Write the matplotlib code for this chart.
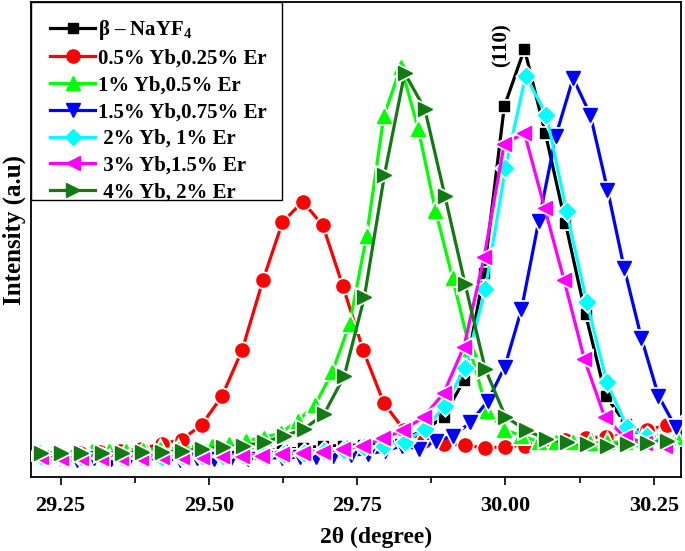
import matplotlib
matplotlib.use("Agg")
import matplotlib.pyplot as plt
from matplotlib.ticker import MultipleLocator, NullLocator, FormatStrFormatter
from matplotlib.legend_handler import HandlerLine2D
from matplotlib.patches import Rectangle
from matplotlib.lines import Line2D

plt.rcParams['font.family'] = ['Liberation Serif', 'DejaVu Serif']
plt.rcParams['font.weight'] = 'bold'
plt.rcParams['mathtext.fontset'] = 'custom'
plt.rcParams['mathtext.rm'] = 'Liberation Serif:bold'
plt.rcParams['mathtext.default'] = 'rm'

labels = ["β – NaYF$_4$", "0.5% Yb,0.25% Er", "1% Yb,0.5% Er", "1.5% Yb,0.75% Er",
          " 2% Yb, 1% Er", " 3% Yb,1.5% Er", " 4% Yb, 2% Er"]

x_black = [29.215, 29.249, 29.283, 29.317, 29.351, 29.385, 29.419, 29.453, 29.487, 29.522,
           29.556, 29.590, 29.624, 29.658, 29.692, 29.726, 29.760, 29.794, 29.828, 29.862,
           29.896, 29.930, 29.964, 29.998, 30.032, 30.067, 30.101, 30.135, 30.169, 30.203,
           30.237, 30.271, 30.305]
y_black = [21, 21, 21, 20, 21, 21.5, 22, 22.5, 23, 24, 25, 26, 27.5, 29, 31, 31.5, 32, 34.5,
           39, 46, 60.5, 97, 204.7, 371.3, 429, 345, 254.7, 163, 81.3, 53, 44, 36.3, 35]

x_red = [29.213, 29.248, 29.283, 29.316, 29.350, 29.385, 29.420, 29.454, 29.488, 29.522,
         29.556, 29.591, 29.624, 29.658, 29.692, 29.726, 29.760, 29.795, 29.829, 29.863,
         29.897, 29.931, 29.965, 29.999, 30.033, 30.067, 30.101, 30.136, 30.170, 30.204,
         30.238, 30.272, 30.306]
y_red = [23, 23, 24, 25, 26, 28, 33.5, 37.3, 52.5, 81, 127.3, 197, 255.3, 276, 252.2, 191,
         127, 74, 47, 36, 33, 32, 29, 30.5, 31.5, 34, 37, 39, 40.5, 42, 47, 52, 56]

x_lime = [29.215, 29.244, 29.273, 29.302, 29.331, 29.360, 29.389, 29.418, 29.447, 29.476,
          29.505, 29.534, 29.563, 29.592, 29.621, 29.650, 29.679, 29.708, 29.737, 29.766,
          29.795, 29.824, 29.853, 29.882, 29.911, 29.940, 29.969, 29.998, 30.027, 30.056,
          30.085, 30.114, 30.143, 30.172, 30.201, 30.230, 30.259, 30.288]
y_lime = [24.7, 24.7, 25, 26, 26.3, 26.5, 27, 28, 28.5, 29.7, 31.5, 33, 36.3, 39.5, 44, 56.5,
          72, 105.3, 153, 242, 362, 411.3, 348.7, 267, 199, 128, 66.3, 47.5, 41.3, 35.5,
          35.3, 34.7, 34, 34.7, 35, 38, 38.7, 39.7]

x_blue = [29.220, 29.249, 29.278, 29.307, 29.335, 29.364, 29.393, 29.422, 29.451, 29.480,
          29.508, 29.537, 29.566, 29.595, 29.624, 29.653, 29.681, 29.710, 29.739, 29.768,
          29.797, 29.826, 29.854, 29.883, 29.912, 29.941, 29.970, 29.999, 30.027, 30.056,
          30.085, 30.114, 30.143, 30.172, 30.200, 30.229, 30.258, 30.287]
y_blue = [19, 18, 17, 19, 18, 17, 18.5, 18, 17.5, 19, 18, 19, 18.5, 19.5, 19, 20, 20, 21,
          22, 23, 26.3, 31.3, 28, 36.3, 41.3, 54.7, 76, 110.7, 168, 256.3, 342, 399.7, 363,
          288, 209.7, 139.7, 81.3, 49.7]

x_cyan = [29.217, 29.251, 29.285, 29.319, 29.353, 29.387, 29.421, 29.455, 29.489, 29.524,
          29.558, 29.592, 29.626, 29.660, 29.694, 29.728, 29.762, 29.796, 29.830, 29.864,
          29.898, 29.932, 29.966, 30.000, 30.034, 30.069, 30.103, 30.137, 30.171, 30.205,
          30.239, 30.273]
y_cyan = [21, 21, 20, 20, 20, 20.5, 20.5, 21, 21, 21.5, 22, 22.5, 23, 24, 26, 27, 29.7, 31.3,
          35.5, 48, 71.3, 109.7, 188, 309.7, 402, 363, 266.3, 175.3, 95, 49.7, 41, 33]

x_mag = [29.216, 29.250, 29.284, 29.318, 29.352, 29.386, 29.420, 29.454, 29.488, 29.522,
         29.556, 29.590, 29.624, 29.658, 29.692, 29.726, 29.760, 29.794, 29.828, 29.862,
         29.896, 29.930, 29.964, 29.998, 30.032, 30.066, 30.099, 30.133, 30.167, 30.201,
         30.235, 30.269]
y_mag = [20, 19, 19, 19.5, 19, 19.5, 20, 20, 20.5, 21, 21.3, 21.5, 23.5, 24, 25.5, 28, 31.3,
         38.7, 47, 60, 84.3, 130.7, 220.5, 334, 344.7, 269.7, 197, 118, 60.5, 39.7, 34.5, 31]

x_dkg = [29.217, 29.251, 29.285, 29.319, 29.353, 29.387, 29.421, 29.455, 29.489, 29.524,
         29.558, 29.592, 29.626, 29.660, 29.694, 29.728, 29.762, 29.796, 29.830, 29.864,
         29.898, 29.932, 29.966, 30.000, 30.034, 30.069, 30.103, 30.137, 30.171, 30.205,
         30.239, 30.273]
y_dkg = [24, 24, 24, 24.5, 24.5, 24.7, 25, 26.3, 28, 29.7, 31.3, 34.7, 41, 48, 63, 101, 180,
         303, 404.7, 368.7, 281.3, 193, 108, 60.5, 47, 38, 34.7, 33, 31.3, 33, 34, 36.3]

series = [
    (x_black, y_black, '#000000', 's', 7.5),
    (x_red, y_red, '#ff0000', 'o', 9.5),
    (x_lime, y_lime, '#00ff00', '^', 9.5),
    (x_blue, y_blue, '#0000ff', 'v', 9.5),
    (x_cyan, y_cyan, '#00ffff', 'D', 8),
    (x_mag, y_mag, '#ff00ff', '<', 9.5),
    (x_dkg, y_dkg, '#127a12', '>', 9.5),
]

fig = plt.figure(figsize=(6.85, 5.51), dpi=100)
ax = fig.add_axes([0.0453, 0.1343, 0.9489, 0.8621])

handles = []
for k, (xs, ys, c, m, ms) in enumerate(series):
    z = 2 + k
    ax.plot(xs, ys, color=c, linewidth=2.3, zorder=z)
    # white halo around markers to give the gapped line look
    ax.plot(xs, ys, linestyle='none', marker=m, markersize=ms, markerfacecolor='none',
            markeredgecolor='white', markeredgewidth=3.5, zorder=z + 0.1)
    ax.plot(xs, ys, linestyle='none', marker=m, markersize=ms, color=c,
            markeredgecolor=c, zorder=z + 0.2)
    handles.append(Line2D([], [], color=c, linewidth=2.3, marker=m,
                          markersize=ms, markeredgecolor=c))

ax.set_xlim(29.2, 30.296)
ax.set_ylim(0, 476)
ax.xaxis.set_major_locator(MultipleLocator(0.25))
ax.xaxis.set_minor_locator(MultipleLocator(0.125))
ax.xaxis.set_major_formatter(FormatStrFormatter('%.2f'))
ax.yaxis.set_major_locator(NullLocator())
ax.tick_params(axis='x', which='major', direction='out', length=6, width=1.2,
               labelsize=16, pad=8)
ax.tick_params(axis='x', which='minor', direction='out', length=4, width=1.2)
for t in ax.get_xticklabels():
    t.set_fontweight('bold')
for s in ax.spines.values():
    s.set_linewidth(1.3)

ax.set_xlabel("2θ (degree)", fontsize=17, fontweight='bold')
ax.xaxis.set_label_coords(0.531, -0.105)
ax.set_ylabel("Intensity (a.u)", fontsize=18, fontweight='bold')
ax.yaxis.set_label_coords(-0.007, 0.52)

ax.text(29.994, 433, "(110)", rotation=90, fontsize=15, fontweight='bold',
        ha='center', va='center')

# legend frame (drawn as a box pinned to the upper-left corner)
ax.add_patch(Rectangle((0, 0.583), 0.386, 0.417, transform=ax.transAxes,
                       facecolor='white', edgecolor='black', linewidth=1.0,
                       zorder=19, clip_on=False))
leg = ax.legend(handles, labels, loc='upper left', bbox_to_anchor=(0, 1), borderaxespad=0,
                frameon=False, prop={'size': 15, 'weight': 'bold'}, handlelength=2.32,
                handletextpad=0.15, labelspacing=0.325, borderpad=0.76,
                numpoints=1, handler_map={Line2D: HandlerLine2D(xpad=0.15)})
leg.set_zorder(20)

fig.savefig("out.png", dpi=100)
